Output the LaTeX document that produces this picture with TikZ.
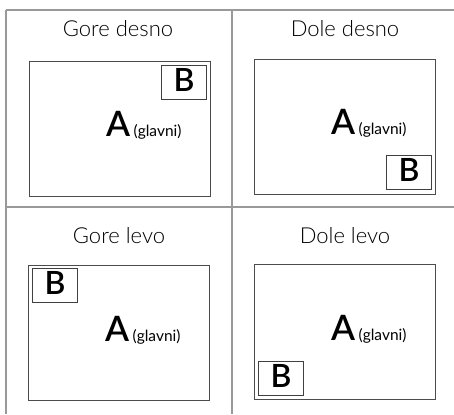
\documentclass[tikz,border=0pt]{standalone}
\usepackage{fontspec}
\setmainfont{Lato}
\newfontfamily\titlefont{Lato Light}
\newfontfamily\markfont{Lato Semibold}
\usetikzlibrary{positioning}

\begin{document}
\begin{tikzpicture}[x=1pt,y=-1pt,
        grid/.style={draw=black!40, line width=1.2pt},
        screen/.style={draw=black!70, line width=0.9pt, minimum width=181pt, minimum height=135pt, inner sep=0pt, anchor=north west},
        pipbox/.style={draw=black!75, line width=0.9pt, minimum width=45pt, minimum height=34pt, inner sep=0pt, text depth=5pt, font=\markfont\fontsize{32}{32}\selectfont},
        title/.style={font=\titlefont\fontsize{22}{22}\selectfont, inner sep=0pt, anchor=base},
        main/.style={font=\markfont\fontsize{35}{35}\selectfont, inner sep=0pt, anchor=base west},
        note/.style={font=\fontsize{15.5}{15.5}\selectfont, inner sep=0pt, anchor=base west}]
        \useasboundingbox (0,0) rectangle (454,414);
        % table lines
        \draw[grid] (6,10) coordinate (t0) -- (454,10) coordinate (t1);
        \draw[grid] (6,207) coordinate (m0) -- (454,207) coordinate (m1);
        \draw[grid] (t0) -- (6,414);
        \draw[grid] (232,10) -- (232,414);

        % the four panels
        \foreach \n/\x/\y/\tx/\ty/\t/\a/\bs in {
                gd/29/61/118/37/Gore desno/north east/{(-4pt,-4pt)},
                dd/254/59/345/37/Dole desno/south east/{(-4pt,5pt)},
                gl/28/265/119/243/Gore levo/north west/{(4pt,-3pt)},
                dl/254/264/345/243/Dole levo/south west/{(4pt,4pt)}}{
            \node[title] (title\n) at (\tx,\ty) {\t};
            \node[screen] (scr\n) at (\x,\y) {};
            \node[pipbox, anchor=\a] (pip\n) at ([shift=\bs]scr\n.\a) {B};
            \node[main] (a\n) at ([shift={(77pt,-76pt)}]scr\n.north west) {A};
            \node[note] (note\n) at ([xshift=3pt]a\n.base east) {(glavni)};
        }
\end{tikzpicture}
\end{document}
